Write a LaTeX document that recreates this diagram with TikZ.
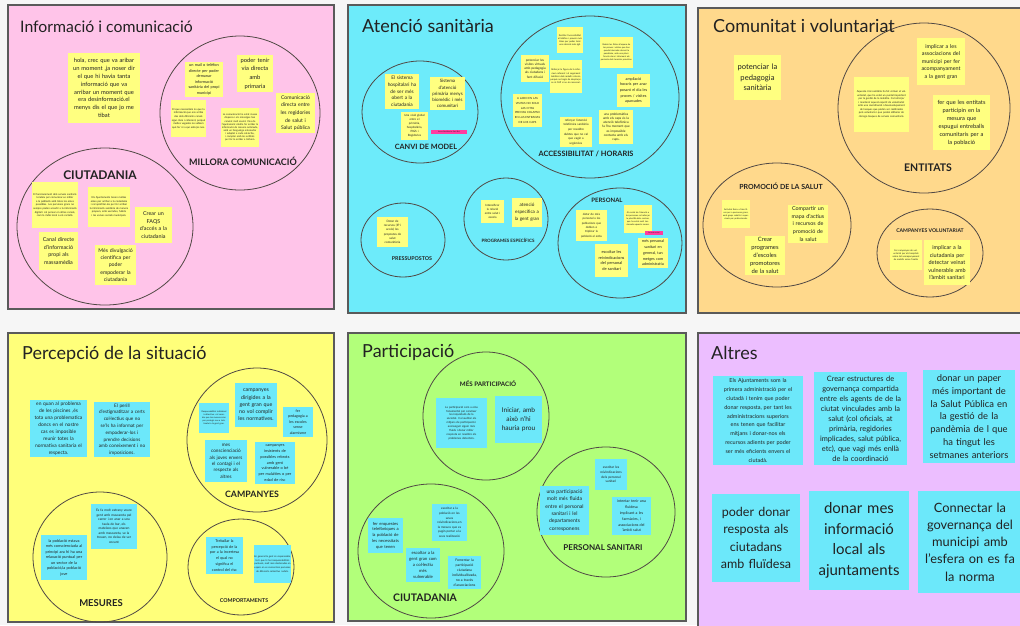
\documentclass[tikz,border=0pt]{standalone}
\usepackage{fontspec}
\setmainfont{Lato}
\usepackage{tikz}

\definecolor{bgpage}{RGB}{246,246,246}
\definecolor{pinkp}{RGB}{255,196,233}
\definecolor{cyanp}{RGB}{109,235,250}
\definecolor{orangep}{RGB}{255,217,140}
\definecolor{yellowp}{RGB}{255,255,122}
\definecolor{greenp}{RGB}{178,255,122}
\definecolor{violetp}{RGB}{236,190,255}
\definecolor{noteyel}{RGB}{255,255,128}
\definecolor{notecyan}{RGB}{108,232,250}
\definecolor{notepink}{RGB}{255,60,160}
\definecolor{ink}{RGB}{34,34,34}
\definecolor{ringcol}{RGB}{80,72,68}
\definecolor{framecol}{RGB}{90,90,90}

\begin{document}
\begin{tikzpicture}[x=1pt, y=-1pt,
        panel/.style={draw=framecol, line width=1.1pt},
        ring/.style={draw=ringcol, line width=0.8pt},
        ptitle/.style={anchor=base west, text=ink, inner sep=0pt, font=\fontsize{18}{18}\selectfont},
        rlabel/.style={text=ink, inner sep=0pt},
        lbl/.style={font=\fontsize{#1}{#1}\selectfont\bfseries},
        note/.style={fill=noteyel, text=ink, align=center, inner xsep=0pt, inner ysep=0pt},
        bnote/.style={note, fill=notecyan},
        pnote/.style={note, fill=notepink},
        wh/.style 2 args={minimum width=#1pt, minimum height=#2pt, text width=#1pt},
        fs/.style 2 args={font=\fontsize{#1}{#2}\selectfont}]
    \useasboundingbox (0,0) rectangle (1020,625);
    \clip (0,0) rectangle (1020,625);
    \fill[bgpage] (0,0) rectangle (1020,625);

    % the six boards
    \foreach \xa/\ya/\xb/\yb/\col in {8/5/334/309/pinkp, 348/5/686/313/cyanp, 698/8/1030/313/orangep,
            8/333/334/622/yellowp, 348/333/686/621/greenp, 698/333/1030/640/violetp}
        \draw[panel, fill=\col] (\xa,\ya) rectangle (\xb,\yb);

    % groups
    \foreach \cx/\cy/\rx/\ry in {240/113/80/77, 105/226.5/88/78.5,
            420/112/58/51, 590/97/89/81, 403/240/42/37, 506/219/42/41, 620/243/62/55,
            924/108/86/85, 777/225/74/62, 930/253/53/44,
            257/440/70/72, 100/557/67/65, 241/567/53/48,
            486/416/63/64, 606/512/69/65, 431/551/73/67}
        \draw[ring] (\cx,\cy) ellipse ({\rx} and {\ry});

    % Informacio i comunicacio
    \node[ptitle, font=\fontsize{15.8}{16}\selectfont] (tinfo) at (20,32) {Informació i comunicació};
    \node[note, wh={72}{70}, fs={5.8}{7.9}] (hola) at (104,88) {hola, crec que va aribar\\un moment ,ja noser dir\\el que hi havia tanta\\informació que va\\arribar un moment que\\era desinformació.el\\menys dis el que jo me\\tibat};
    \node[note, wh={38}{35}, fs={3.9}{5.5}] (mail) at (204,79.5) {un mail o telèfon\\directe per poder\\demanar\\informació\\sanitària del propi\\municipi};
    \node[note, wh={36}{37}, fs={5.8}{8.6}] (viaprim) at (255,73.5) {poder tenir\\via directa\\amb\\primaria};
    \node[note, wh={39}{40}, fs={5.1}{7.6}] (regid) at (295.5,113) {Comunicació\\directa entre\\les regidories\\de salut i\\Salut pública};
    \node[note, wh={35}{37}, fs={2.6}{3.6}] (infoclara) at (188.5,118.5) {El que necessitem és que la informació que ens arriba des dels diferents canals sigui clara i coherent, perquè moltes vegades no sabíem què fer ni a qui adreçar-nos.};
    \node[note, wh={38}{39}, fs={2.5}{3.1}] (infoaj) at (240,127.5) {La comunicació ha estat massa dispersa i els missatges han canviat molt sovint. Des de l'ajuntament caldria fer arribar la informació de manera ordenada, amb un llenguatge entenedor i adaptat a cada col·lectiu, i comptar amb les entitats per fer-la arribar a tothom.};
    \node[rlabel, lbl=9] (lmillora) at (243,161) {MILLORA COMUNICACIÓ};
    \node[rlabel, lbl=12] (lciut) at (100,175) {CIUTADANIA};
    \node[note, wh={46}{46}, fs={2.6}{3.6}] (ajserv) at (55,205) {El funcionament dels serveis sanitaris tendeix per comunicar-se millor a la població amb totes les eines possibles. Les persones grans no sempre poden accedir a la informació digital i cal pensar en altres canals, com la ràdio local o els cartells.};
    \node[note, wh={42}{40}, fs={2.6}{3.5}] (ajmitj) at (109,207) {Els Ajuntaments tenen moltes eines per arribar a la ciutadania i cal aprofitar-les per fer arribar la informació sanitària de manera propera, amb xerrades, fullets i les xarxes socials municipals.};
    \node[note, wh={37}{36}, fs={5.4}{7.8}] (faqs) at (153.5,225) {Crear un\\FAQS\\d'accés a la\\ciutadania};
    \node[note, wh={39}{38}, fs={5.4}{7.8}] (canal) at (58.5,251) {Canal directe\\d'informació\\propi als\\massamèdia};
    \node[note, wh={41}{40}, fs={5.2}{7.2}] (divulg) at (115.5,265) {Més divulgació\\científica per\\poder\\empoderar la\\ciutadania};

    % Atencio sanitaria
    \node[ptitle] (tatencio) at (362,32) {Atenció sanitària};
    \node[note, wh={34}{35}, fs={4.8}{6.7}] (hosp) at (402,91.5) {El sistema\\hospitalari ha\\de ser més\\obert a la\\ciutadania};
    \node[note, wh={35}{33}, fs={4.5}{6.1}] (primaria) at (447.5,93.5) {Sistema\\d'atenció\\primària menys\\biomèdic i més\\comunitari};
    \node[note, wh={27}{28}, fs={2.9}{4}] (visio) at (414.5,126) {Una visió global\\entre el\\primària,\\hospitalària,\\PIGS i\\Regidories};
    \node[pnote, wh={36}{4}, fs={1.8}{2}] (xarxa) at (449,132) {Xarxa Residències Sant Boi};
    \node[rlabel, lbl=7.3] (lcanvi) at (426,147) {CANVI DE MODEL};
    \node[note, wh={26}{26}, fs={2.3}{3.1}] (tel) at (570,40) {Facilitar l'accessibilitat al telèfon i proveir més línies per poder tenir una atenció més àgil.};
    \node[note, wh={33}{31}, fs={2.2}{3}] (llistes) at (616.5,52.5) {Reduir les llistes d'espera de les proves i visites que han quedat aturades durant la pandèmia, amb una planificació clara i informant els pacients dels terminis previstos.};
    \node[note, wh={28}{27}, fs={3.2}{4.2}] (virtual) at (535,68.5) {potenciar les\\visites virtuals\\amb pedagogia\\als ciutadans i\\fent difusió};
    \node[note, wh={32}{33}, fs={2.3}{3.2}] (cronics) at (566,76.5) {Reforçar la figura de la infermera referent i el seguiment telefònic dels malalts crònics, perquè no hagin de desplaçar-se al CAP si no és necessari.};
    \node[note, wh={33}{33}, fs={3.8}{5.6}] (horaris) at (633.5,90.5) {ampliació\\horaris per anar\\posant el dia les\\proves / visites\\aparcades};
    \node[note, wh={29}{33}, fs={2.8}{4.8}] (caps) at (527.5,110.5) {A LADO EN LAS\\VISITAS NO SOLO\\LAS CITAS\\PREVIAS COLAPSO\\EN LAS ENTRADAS\\DE LOS CAPS};
    \node[note, wh={32}{30}, fs={3}{4.6}] (telef) at (576,132) {reforçar l'atenció\\telefònica sanitària\\per resoldre\\dubtes que no cal\\que vagin a\\urgències};
    \node[note, wh={34}{34}, fs={3.2}{4.3}] (problema) at (616,127) {una problemàtica\\amb els caps és la\\atenció telefònica\\fa l'ha moment que\\es impossible\\contacta amb els\\caps.};
    \node[rlabel, lbl=7.4] (laccess) at (586,154) {ACCESSIBILITAT / HORARIS};
    \node[note, wh={31}{30}, fs={3}{4.3}] (recursos) at (392.5,232) {Dotar de\\recursos (IP i\\accés) les\\propostes de\\salut\\comunitària};
    \node[rlabel, lbl=5.3] (lpress) at (412,259) {PRESSUPOSTOS};
    \node[note, wh={23}{23}, fs={2.9}{4}] (escola) at (492.5,211.5) {Intensificar\\la relació\\entre salut i\\escola};
    \node[note, wh={30}{29}, fs={4.6}{7}] (gentgran) at (527,212.5) {atenció\\específica a\\la gent gran};
    \node[rlabel, lbl=4.5] (lprog) at (508,240) {PROGRAMES ESPECÍFICS};
    \node[rlabel, lbl=6] (lpers) at (607,200) {PERSONAL};
    \node[note, wh={31}{31}, fs={2.9}{4.4}] (estiu) at (591.5,225.5) {dotar de més\\personal a les\\poblacions que\\doblen o\\triplicar la\\població al estiu};
    \node[note, wh={28}{28}, fs={2.2}{3}] (plantilla) at (638,219) {Al costat de l'atenció a les persones cal reforçar la plantilla dels centres, que ha estat molt tensionada aquests mesos.};
    \node[pnote, wh={18}{4}, fs={1.6}{2}] (etiq) at (654,232.5) {Personal sanitari};
    \node[note, wh={33}{33}, fs={4}{5.5}] (escoltar) at (611.5,260.5) {escoltar les\\reivindicacions\\del personal\\de sanitari};
    \node[note, wh={30}{30}, fs={3.8}{5.7}] (mespers) at (653,253) {més personal\\sanitari en\\general, tan\\metges com\\administratiu};

    % Comunitat i voluntariat
    \node[ptitle] (tcomun) at (713,32) {Comunitat i voluntariat};
    \node[note, wh={47}{45}, fs={7.6}{10.3}] (pedag) at (757.5,77.5) {potenciar la\\pedagogia\\sanitària};
    \node[note, wh={48}{47}, fs={5.4}{7.5}] (acomp) at (941,61.5) {implicar a les\\associacions del\\municipi per fer\\acompanyament\\a la gent gran};
    \node[note, wh={55}{55}, fs={2.6}{3.5}] (voluntari) at (881.5,104.5) {Aquesta crisi sanitària ha fet créixer el voluntariat, que ha estat un puntal important per la gestió de la malaltia. Cal reforçar i mantenir aquest esperit de voluntariat amb una coordinació i desenvolupament de tasques que poden ser realitzades pels voluntaris i que poden alliberar de càrrega tasques de serveis comunitaris.};
    \node[note, wh={57}{55}, fs={5.7}{8}] (entreb) at (961.5,122.5) {fer que les entitats\\participin en la\\mesura que\\espugui entreballs\\comunitaris per a\\la població};
    \node[rlabel, lbl=10.5] (lentitats) at (928,168) {ENTITATS};
    \node[rlabel, lbl=7] (lpromo) at (781,186) {PROMOCIÓ DE LA SALUT};
    \node[note, wh={28}{28}, fs={2.2}{3}] (activitat) at (736,214) {Activitat física a l'aire lliure per a persones grans, amb grups reduïts i supervisats per professionals.};
    \node[note, wh={40}{38}, fs={5.4}{7.6}] (mapa) at (808,224) {Compartir un\\mapa d'actius\\i recursos de\\promoció de\\la salut};
    \node[note, wh={40}{39}, fs={5.9}{7.9}] (escoles) at (765,255.5) {Crear\\programes\\d'escoles\\promotores\\de la salut};
    \node[rlabel, lbl=5.1] (lcampvol) at (930,231) {CAMPANYES VOLUNTARIAT};
    \node[note, wh={32}{30}, fs={2.3}{3.2}] (campvol) at (906,255) {Fer campanyes de voluntariat per als hospitals sobre tot acompanyament de malalts sense família};
    \node[note, wh={46}{45}, fs={5.5}{7.5}] (veinat) at (947,262.5) {implicar a la\\ciutadania per\\detectar veinat\\vulnerable amb\\l'àmbit sanitari};

    % Percepcio de la situacio
    \node[ptitle] (tpercep) at (22,359) {Percepció de la situació};
    \node[bnote, wh={57}{57}, fs={4.9}{6.9}] (piscines) at (58.5,428.5) {en quan al problema\\de les piscines ,és\\tota una problematica\\doncs en el nostre\\cas es imposible\\reunir totes la\\normativa sanitaria el\\respecta.};
    \node[bnote, wh={56}{55}, fs={4.7}{6.8}] (estigma) at (122,429.5) {El perill\\d'estigmatitzar a certs\\col·lectius que no\\se'ls ha informat per\\empoderar-los i\\prendre decisions\\amb coneixement i no\\imposicions.};
    \node[bnote, wh={30}{30}, fs={2.2}{3}] (lleure) at (214,418) {Responsabilitat individual i col·lectiva: cal recordar que les mesures són per protegir-nos a tots, també a la gent gran.};
    \node[bnote, wh={42}{44}, fs={5.3}{7.2}] (campgg) at (256,405) {campanyes\\dirigides a la\\gent gran que\\no vol complir\\les normatives.};
    \node[bnote, wh={30}{30}, fs={3.7}{5.6}] (alarm) at (298,422) {fer\\pedagogia a\\les escoles\\sense\\alarmisme};
    \node[bnote, wh={42}{42}, fs={4.7}{6.4}] (joves) at (226,461) {mes\\conscienciació\\als joves envers\\el contagi i el\\respecte als\\altres};
    \node[bnote, wh={40}{42}, fs={3.9}{5.8}] (rebrots) at (275,463) {campanyes\\insistents de\\possibles rebrots\\amb gent\\vulnerable o bé\\per malalties o per\\edad de risc};
    \node[rlabel, lbl=8.8] (lcamp) at (252,494) {CAMPANYES};
    \node[bnote, wh={46}{45}, fs={3.9}{5.5}] (relax) at (64,557.5) {la població estava\\més conscienciada al\\principi ara hi ha una\\relaxació puntual per\\un sector de la\\població,la població\\jove};
    \node[bnote, wh={46}{45}, fs={3.3}{4.5}] (xocant) at (114,526.5) {Es fa molt estrany veure\\gent amb mascareta pel\\carrer i en anar a una\\taula de bar, els\\mateixos que anaven\\amb mascareta, se la\\treuen, no deixa de ser\\xocant};
    \node[rlabel, lbl=9.5] (lmesures) at (101,603) {MESURES};
    \node[bnote, wh={37}{37}, fs={3.8}{5.8}] (por) at (224.5,555.5) {Treballar la\\percepció de la\\por a la incertesa\\el qual no\\significa el\\control del risc};
    \node[bnote, wh={37}{38}, fs={2.4}{3.6}] (responsable) at (272.5,564) {En general la gent és responsable, tot i que hi ha irresponsabilitats puntuals, molt més destacades en espais on es concentren persones de diferents col·lectius i edats.};
    \node[rlabel, lbl=5.3] (lcomport) at (244,601) {COMPORTAMENTS};

    % Participacio
    \node[ptitle] (tpartic) at (362,357) {Participació};
    \node[rlabel, lbl=6.2] (lmespart) at (488,384) {MÉS PARTICIPACIÓ};
    \node[bnote, wh={51}{50}, fs={2.8}{3.9}] (eina) at (461.5,423) {La participació com a eina\\fonamental per conèixer\\les inquietuds de la\\societat. Cal auditar els\\mitjans de participació i\\aconseguir siguin més\\fluids i donar millor\\resposta en resoldre els\\problemes detectats.};
    \node[bnote, wh={47}{47}, fs={6.6}{8.8}] (iniciar) at (518.5,419.5) {Iniciar, amb\\això n'hi\\hauria prou};
    \node[bnote, wh={32}{31}, fs={3.3}{4.6}] (reivind) at (611,474.5) {escoltar les\\reivindicacions\\dels personal\\sanitari};
    \node[bnote, wh={49}{49}, fs={5.1}{7.3}] (fluida) at (564.5,510.5) {una participació\\molt més fluida\\entre el personal\\sanitari i lel\\departaments\\corresponens};
    \node[bnote, wh={39}{38}, fs={3.7}{5.8}] (farmacies) at (631.5,516) {intentar tenir una\\fluidesa\\implicant a les\\farmàcies, i\\associacions del\\`àmbit salut};
    \node[rlabel, lbl=8] (lperssan) at (603,548) {PERSONAL SANITARI};
    \node[bnote, wh={35}{37}, fs={3.1}{4.6}] (realitz) at (449.5,522.5) {escoltar a la\\població en les\\seves\\reivindicacions,en\\la mesura que es\\pugin portar a la\\seva realització};
    \node[bnote, wh={35}{35}, fs={4.2}{5.8}] (enquestes) at (385.5,535.5) {fer enquestes\\telefòniques a\\la població de\\les necessitats\\que tenen};
    \node[bnote, wh={34}{34}, fs={4.3}{6}] (collectiu) at (423,565) {escoltar a la\\gent gran com\\a col·lectiu\\més\\vulnerable};
    \node[bnote, wh={33}{33}, fs={3.5}{5}] (fomentar) at (464.5,572.5) {Fomentar la\\participació\\ciutadana\\individualitzada,\\no a través\\d'associacions};
    \node[rlabel, lbl=10.4] (lciut2) at (425,598) {CIUTADANIA};

    % Altres
    \node[ptitle] (taltres) at (711,359) {Altres};
    \node[bnote, wh={90}{89}, fs={5.5}{8.8}] (ajunt) at (758,420.5) {Els Ajuntaments som la\\primera administració per el\\ciutadà i tenim que poder\\donar resposta, per tant les\\administracions superiors\\ens tenen que facilitar\\mitjans i donar-nos els\\recursos adients per poder\\ser més eficients envers el\\ciutadà.};
    \node[bnote, wh={93}{93}, fs={7.4}{10}] (governa) at (860.5,418.5) {Crear estructures de\\governança compartida\\entre els agents de de la\\ciutat vinculades amb la\\salut (col oficials, at\\primària, regidories\\implicades, salut pública,\\etc), que vagi més enllà\\de la coordinació};
    \node[bnote, wh={92}{93}, fs={9.4}{12.9}] (paper) at (969,416.5) {donar un paper\\més important de\\la Salut Pública en\\la gestió de la\\pandèmia de l que\\ha tingut les\\setmanes anteriors};
    \node[bnote, wh={88}{88}, fs={12.5}{17.5}] (fluidesa) at (756,538) {poder donar\\resposta als\\ciutadans\\amb fluïdesa};
    \node[bnote, wh={100}{99}, fs={15}{20.5}] (local) at (859,540.5) {donar mes\\informació\\local als\\ajuntaments};
    \node[bnote, wh={104}{102}, fs={12.8}{17.3}] (norma) at (970,542) {Connectar la\\governança del\\municipi amb\\l'esfera on es fa\\la norma};
\end{tikzpicture}
\end{document}
